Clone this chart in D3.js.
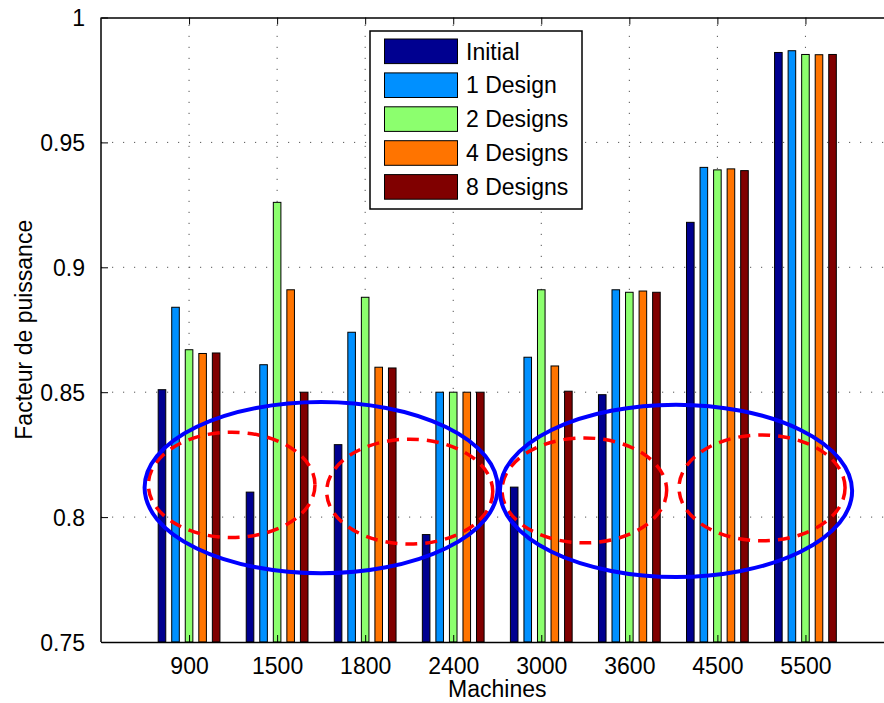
<!DOCTYPE html>
<html><head><meta charset="utf-8">
<script src="https://cdn.jsdelivr.net/npm/d3@7"></script>
<style>
body{margin:0;background:#fff}
svg{display:block}
text{font-family:"Liberation Sans",Arial,Helvetica,sans-serif;fill:#000}
</style>
</head><body><svg id="c" width="884" height="703"></svg>
<script>
const categories = ["900","1500","1800","2400","3000","3600","4500","5500"];
const seriesNames = ["Initial","1 Design","2 Designs","4 Designs","8 Designs"];
const initial = [0.851,0.810,0.829,0.793,0.812,0.849,0.918,0.986];
const design1 = [0.884,0.861,0.874,0.850,0.864,0.891,0.940,0.9867];
const design2 = [0.867,0.926,0.888,0.850,0.891,0.890,0.939,0.9852];
const design4 = [0.8655,0.891,0.860,0.850,0.8605,0.8905,0.9394,0.9851];
const design8 = [0.8657,0.850,0.8597,0.850,0.8504,0.890,0.9387,0.9852];
const yTicks = [0.75,0.8,0.85,0.9,0.95,1];
const yTickLabels = ["0.75","0.8","0.85","0.9","0.95","1"];
const colors = ["#000090","#0090FF","#8CFF6E","#FF7400","#800000"];
const xLabel = "Machines";
const yLabel = "Facteur de puissance";
// annotation ellipses in data units (x: category position, y: value)
const blueEllipses = [
  {cx:2.50, cy:0.8118, rx:2.005, ry:0.0343},
  {cx:6.53, cy:0.8105, rx:2.0, ry:0.0345}
];
const redEllipses = [
  {cx:1.484, cy:0.8129, rx:0.946, ry:0.0211},
  {cx:3.506, cy:0.8102, rx:0.943, ry:0.0210},
  {cx:5.489, cy:0.8107, rx:0.935, ry:0.0210},
  {cx:7.507, cy:0.8117, rx:0.943, ry:0.0212}
];

const seriesValues = [initial, design1, design2, design4, design8];
const svg = d3.select("#c");
const pLeft = 101, pTop = 17.5, pBottom = 642, pRight = 893.5;
const x = d3.scaleLinear().domain([0, categories.length + 1]).range([pLeft, pRight]);
const y = d3.scaleLinear().domain([0.75, 1]).range([pBottom, pTop]);
const slot = 0.1538;           // MATLAB group slot width (category units)
const barW = slot * 0.56;

// grid
const grid = svg.append("g").attr("stroke", "#555").attr("stroke-width", 1).attr("stroke-dasharray", "1.2,9.8");
grid.selectAll("line.h").data(yTicks.filter(t => t > 0.75 && t < 1)).join("line")
  .attr("x1", pLeft).attr("x2", pRight).attr("y1", d => y(d)).attr("y2", d => y(d));
grid.selectAll("line.v").data(categories).join("line")
  .attr("x1", (d, i) => x(i + 1)).attr("x2", (d, i) => x(i + 1)).attr("y1", pBottom).attr("y2", pTop);

// bars
const barsG = svg.append("g");
seriesValues.forEach((vals, j) => {
  barsG.append("g").selectAll("rect").data(vals).join("rect")
    .attr("x", (d, i) => x(i + 1 + (j - 2) * slot - barW / 2))
    .attr("width", x(barW) - x(0))
    .attr("y", d => y(d))
    .attr("height", d => y(0.75) - y(d))
    .attr("fill", colors[j])
    .attr("stroke", "#000").attr("stroke-width", 1);
});

// axes
const axisLeft = d3.axisLeft(y).tickValues(yTicks).tickFormat((d, i) => yTickLabels[i]).tickSizeInner(-7).tickSizeOuter(0).tickPadding(16);
const gl = svg.append("g").attr("transform", `translate(${pLeft},0)`).call(axisLeft);
const axisBottom = d3.axisBottom(x).tickValues(d3.range(1, categories.length + 1)).tickFormat((d, i) => categories[i]).tickSizeInner(-7).tickSizeOuter(0).tickPadding(16);
const gb = svg.append("g").attr("transform", `translate(0,${pBottom})`).call(axisBottom);
const axisTop = d3.axisTop(x).tickValues(d3.range(1, categories.length + 1)).tickFormat("").tickSizeInner(-7).tickSizeOuter(0);
const gt = svg.append("g").attr("transform", `translate(0,${pTop})`).call(axisTop);
[gl, gb, gt].forEach(g => {
  g.selectAll(".domain").attr("stroke", "#000").attr("stroke-width", 1.5);
  g.selectAll(".tick line").attr("stroke", "#000").attr("stroke-width", 1);
  g.selectAll("text").attr("font-size", 23).attr("fill", "#000").style("font-family", '"Liberation Sans",Arial,sans-serif');
});
gl.selectAll("text").attr("dy", "0.36em");
gb.selectAll("text").attr("dy", "0.71em");
gl.select(".domain").remove();
svg.append("line").attr("x1", pLeft).attr("x2", pLeft).attr("y1", pTop).attr("y2", pBottom).attr("stroke", "#000").attr("stroke-width", 1.5);

// labels
svg.append("text").attr("x", (pLeft + pRight) / 2).attr("y", 697).attr("text-anchor", "middle").attr("font-size", 23).text(xLabel);
svg.append("text").attr("transform", `translate(32,${(pTop + pBottom) / 2}) rotate(-90)`).attr("text-anchor", "middle").attr("font-size", 23).text(yLabel);

// legend
const lg = svg.append("g");
lg.append("rect").attr("x", 370).attr("y", 31).attr("width", 212).attr("height", 178).attr("fill", "#fff").attr("stroke", "#000").attr("stroke-width", 1.5);
seriesNames.forEach((n, j) => {
  const cy = 51.3 + j * 33.9;
  lg.append("rect").attr("x", 384.5).attr("y", cy - 12.3).attr("width", 73).attr("height", 24.6).attr("fill", colors[j]).attr("stroke", "#000").attr("stroke-width", 1);
  lg.append("text").attr("x", 466).attr("y", cy).attr("dy", "0.36em").attr("font-size", 23).text(n);
});

// annotations
const ell = svg.append("g").attr("fill", "none");
ell.selectAll("ellipse.r").data(redEllipses).join("ellipse")
  .attr("cx", d => x(d.cx)).attr("cy", d => y(d.cy))
  .attr("rx", d => x(d.rx) - x(0)).attr("ry", d => y(0.75) - y(0.75 + d.ry))
  .attr("stroke", "#FF0000").attr("stroke-width", 3.5).attr("stroke-dasharray", "12,8");
ell.selectAll("ellipse.b").data(blueEllipses).join("ellipse")
  .attr("cx", d => x(d.cx)).attr("cy", d => y(d.cy))
  .attr("rx", d => x(d.rx) - x(0)).attr("ry", d => y(0.75) - y(0.75 + d.ry))
  .attr("stroke", "#0000FF").attr("stroke-width", 4);
</script>
</body></html>
